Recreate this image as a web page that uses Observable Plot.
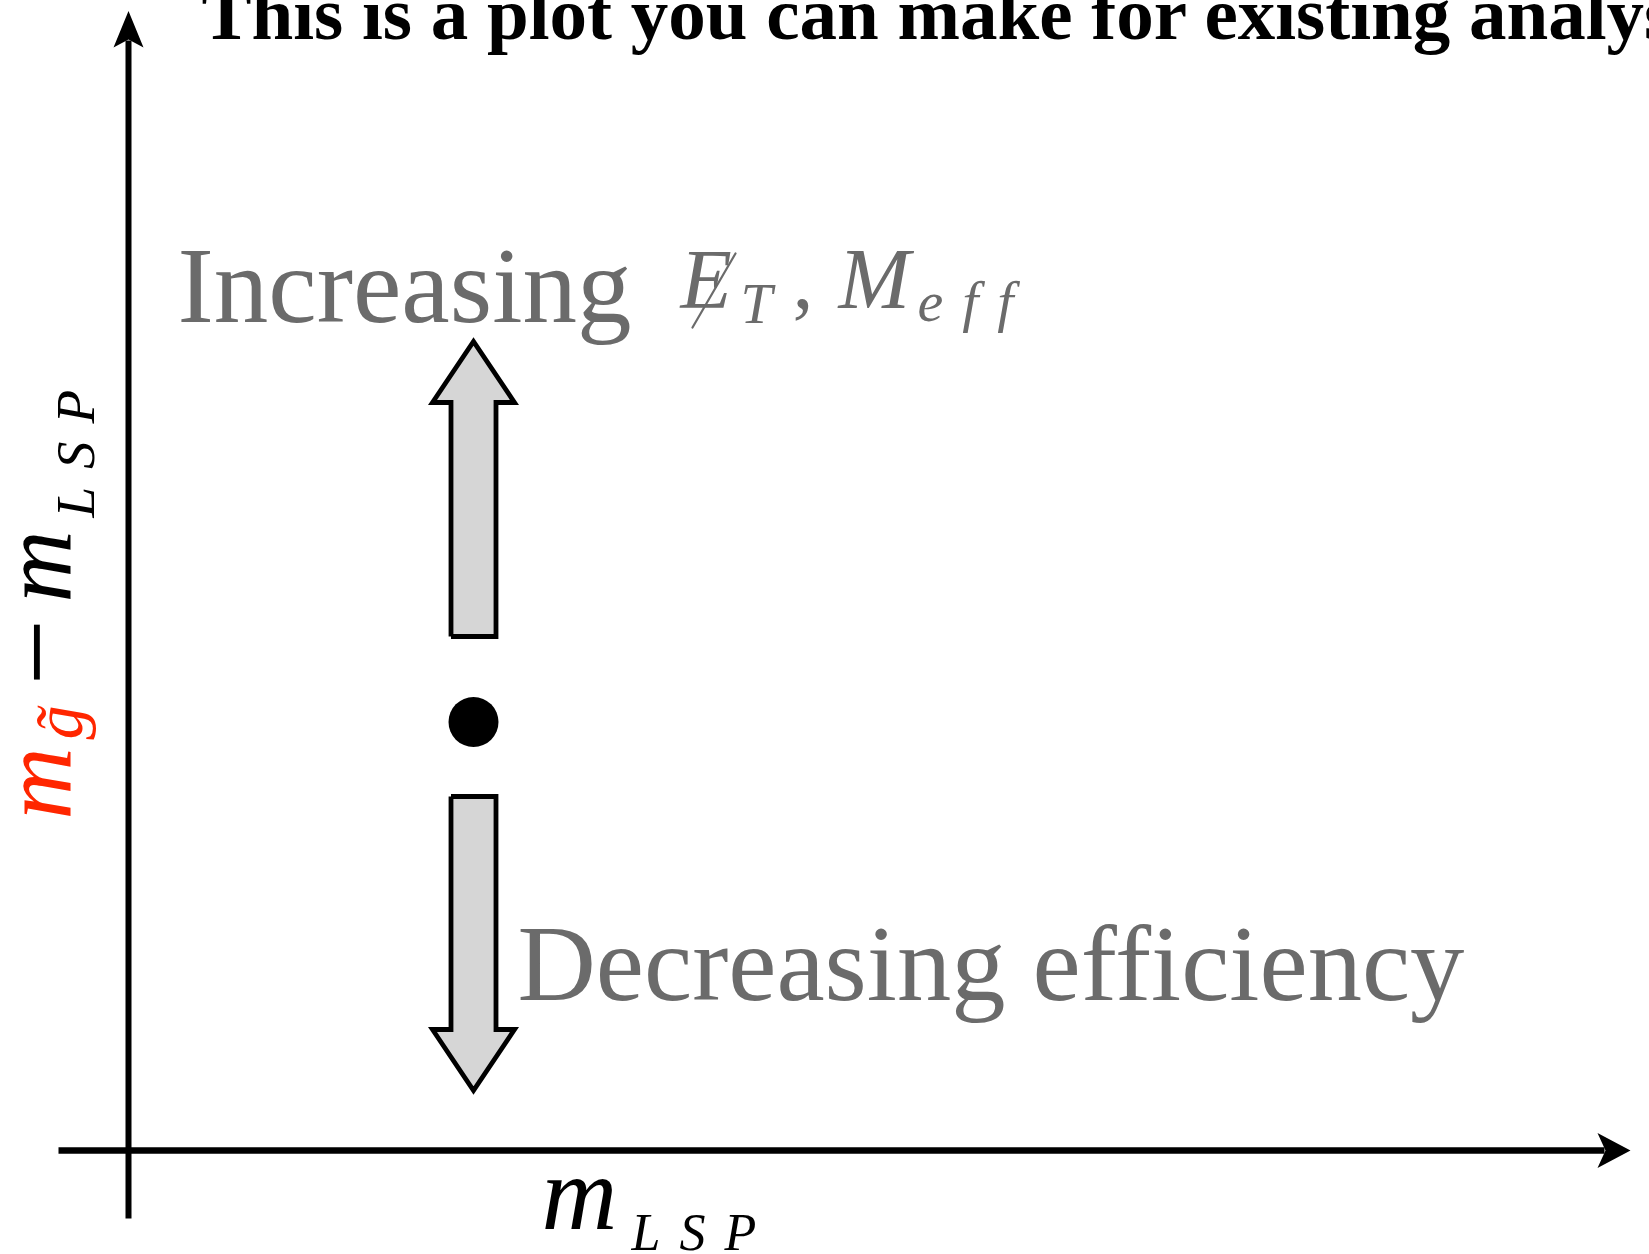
<!DOCTYPE html>
<html>
<head>
<meta charset="utf-8">
<script src="https://cdn.jsdelivr.net/npm/d3@7"></script>
<script src="https://cdn.jsdelivr.net/npm/@observablehq/plot@0.6"></script>
<style>
  html, body { margin: 0; padding: 0; background: #fff; }
  svg { display: block; }
</style>
</head>
<body>
<div id="chart"></div>
<script>
// ---- data (diagram coordinates: x = m_LSP, y = m_gluino - m_LSP) ----
const titleText = ["This is a plot you can make for existing analyses"];
const annotationText = ["Increasing", "Decreasing efficiency"];
const benchmark = [{x: 3.45, y: 4.285}];

// block arrows (vertices)
const upArrow = [
  [3.225, 5.14], [3.225, 7.48], [3.04, 7.48], [3.45, 8.09],
  [3.86, 7.48], [3.675, 7.48], [3.675, 5.14], [3.225, 5.14]
];
const downArrow = [
  [3.225, 3.54], [3.225, 1.21], [3.04, 1.21], [3.45, 0.60],
  [3.86, 1.21], [3.675, 1.21], [3.675, 3.54], [3.225, 3.54]
];

// axes
const xAxisLine = [[-0.70, 0], [14.76, 0]];
const yAxisLine = [[0, -0.68], [0, 11.10]];
const xAxisHead = [[15.02, 0], [14.69, 0.175], [14.77, 0], [14.69, -0.175], [15.02, 0]];
const yAxisHead = [[0, 11.395], [-0.15, 11.03], [0, 11.11], [0.15, 11.03], [0, 11.395]];

// slash through E (missing E_T)
const metSlash = [[5.64, 8.23], [6.07, 8.97]];

const mathPieces = ["E", "T", ",", "M", "eff"];
const xLabelPieces = ["m", "LSP"];
const yLabelPieces = ["m", "g\u0303", "\u2212", "m", "LSP"];

const gray = "#6b6b6b";
const red = "#ff2600";
const serif = "Liberation Serif, Times New Roman, serif";

const pt = (a) => a.map(([x, y]) => ({x, y}));
const label = (txt, x, y, opts) =>
  Plot.text([txt], {x: () => x, y: () => y, text: d => d, textAnchor: "start", lineAnchor: "bottom", fontFamily: serif, ...opts});

const plot = Plot.plot({
  width: 1649,
  height: 1254,
  margin: 0,
  x: {domain: [-1.28, 15.21], range: [0, 1649], axis: null},
  y: {domain: [-1.04, 11.50], range: [1254, 0], axis: null},
  style: {background: "#fff", overflow: "hidden"},
  marks: [
    // axes
    Plot.line(pt(xAxisLine), {x: "x", y: "y", stroke: "#000", strokeWidth: 6.5, strokeLinecap: "butt"}),
    Plot.line(pt(yAxisLine), {x: "x", y: "y", stroke: "#000", strokeWidth: 6, strokeLinecap: "butt"}),
    Plot.line(pt(xAxisHead), {x: "x", y: "y", fill: "#000", stroke: "none"}),
    Plot.line(pt(yAxisHead), {x: "x", y: "y", fill: "#000", stroke: "none"}),

    // block arrows
    Plot.line(pt(upArrow), {x: "x", y: "y", fill: "#d6d6d6", stroke: "#000", strokeWidth: 4.8, strokeLinejoin: "miter", strokeMiterlimit: 10, strokeLinecap: "butt"}),
    Plot.line(pt(downArrow), {x: "x", y: "y", fill: "#d6d6d6", stroke: "#000", strokeWidth: 4.8, strokeLinejoin: "miter", strokeMiterlimit: 10, strokeLinecap: "butt"}),

    // benchmark point
    Plot.dot(benchmark, {x: "x", y: "y", r: 25, fill: "#000", stroke: "none"}),

    // title (clipped at top like the reference)
    label(titleText[0], 0.73, 11.12, {fontWeight: "bold", fontSize: 75, fill: "#000"}),

    // annotations
    label(annotationText[0], 0.49, 8.29, {fontSize: 109, fill: gray}),
    label(annotationText[1], 3.89, 1.51, {fontSize: 108.5, fill: gray}),

    // missing E_T, M_eff
    label(mathPieces[0], 5.52, 8.43, {fontStyle: "italic", fontSize: 84, fill: gray}),
    Plot.line(pt(metSlash), {x: "x", y: "y", stroke: gray, strokeWidth: 2.2}),
    label(mathPieces[1], 6.12, 8.28, {fontStyle: "italic", fontSize: 57, fill: gray}),
    label(mathPieces[2], 6.64, 8.43, {fontSize: 84, fill: gray}),
    label(mathPieces[3], 7.10, 8.43, {fontStyle: "italic", fontSize: 86, fill: gray}),
    label(mathPieces[4], 7.89, 8.30, {fontStyle: "italic", fontSize: 58, fill: gray}),

    // x-axis label m_LSP
    label(xLabelPieces[0], 4.13, -0.78, {fontStyle: "italic", fontSize: 105, fill: "#000"}),
    label(xLabelPieces[1], 5.03, -0.99, {fontStyle: "italic", fontSize: 52, fill: "#000"}),

    // y-axis label m_g~ - m_LSP (rotated)
    label(yLabelPieces[0], -0.59, 3.31, {rotate: -90, fontStyle: "italic", fontSize: 100, fill: red}),
    label(yLabelPieces[1], -0.47, 4.11, {rotate: -90, fontStyle: "italic", fontSize: 68, fill: red}),
    label(yLabelPieces[2], -0.53, 4.65, {rotate: -90, fontSize: 118, fill: "#000"}),
    label(yLabelPieces[3], -0.59, 5.48, {rotate: -90, fontStyle: "italic", fontSize: 100, fill: "#000"}),
    label(yLabelPieces[4], -0.35, 6.33, {rotate: -90, fontStyle: "italic", fontSize: 55, fill: "#000"})
  ]
});

// math-style letter spacing for sub-scripts
d3.select(plot).selectAll("text").each(function () {
  const t = this.textContent;
  if (t === "eff") this.setAttribute("letter-spacing", "19");
  if (t === "LSP") this.setAttribute("letter-spacing", this.getAttribute("transform")?.includes("rotate") ? "18" : "19");
});

document.getElementById("chart").appendChild(plot);
</script>
</body>
</html>
